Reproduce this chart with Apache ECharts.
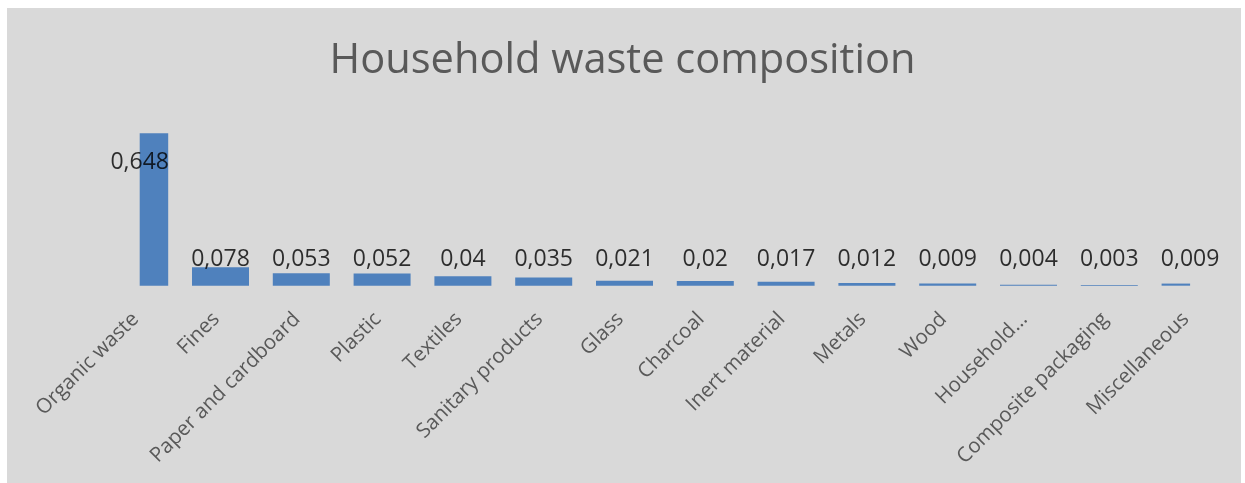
<!DOCTYPE html>
<html>
<head>
<meta charset="utf-8">
<script src="https://cdn.jsdelivr.net/npm/echarts@6/dist/echarts.min.js"></script>
<style>
html,body{margin:0;padding:0;background:#ffffff;}
#chart{width:1245px;height:483px;}
</style>
</head>
<body>
<div id="chart"></div>
<script>
const titleText = 'Household waste composition';
const categories = ['Organic waste', 'Fines', 'Paper and cardboard', 'Plastic', 'Textiles', 'Sanitary products', 'Glass', 'Charcoal', 'Inert material', 'Metals', 'Wood', 'Household...', 'Composite packaging', 'Miscellaneous'];
const values = [0.648, 0.078, 0.053, 0.052, 0.04, 0.035, 0.021, 0.02, 0.017, 0.012, 0.009, 0.004, 0.003, 0.009];

const fmt = v => String(v).replace('.', ',');
const BAR_W = 57;

const labelData = values.map((v, i) => {
  if (i === 0) {
    return { value: [i, v], label: { position: 'bottom', distance: 17 } };
  }
  return { value: [i, 0], label: { position: 'top', distance: 14 } };
});

const chart = echarts.init(document.getElementById('chart'), null, { renderer: 'canvas' });
chart.setOption({
  animation: false,
  backgroundColor: '#ffffff',
  graphic: [{
    type: 'rect', left: 7, top: 8, z: -100, silent: true,
    shape: { width: 1234, height: 475 },
    style: { fill: '#d9d9d9' }
  }],
  title: {
    text: titleText,
    left: 'center',
    top: 35,
    textStyle: { fontFamily: 'Open Sans', fontSize: 41.6, fontWeight: 'normal', color: '#595959' }
  },
  grid: { left: 139.7, right: 54.9, top: 121.1, bottom: 197.3 },
  xAxis: {
    type: 'category',
    data: categories,
    boundaryGap: false,
    axisLine: { show: false },
    axisTick: { show: false },
    splitLine: { show: false },
    axisLabel: {
      rotate: 45, interval: 0, margin: 26,
      padding: [0, 6, 0, 0],
      fontFamily: 'Open Sans', fontSize: 20.5, color: '#595959'
    }
  },
  yAxis: {
    type: 'value', min: 0, max: 0.7, show: false,
    splitLine: { show: false }
  },
  series: [{
    type: 'custom',
    data: values.map((v, i) => [i, v]),
    encode: { x: 0, y: 1 },
    renderItem: (params, api) => {
      const top = api.coord([api.value(0), api.value(1)]);
      const base = api.coord([api.value(0), 0]);
      const rect = echarts.graphic.clipRectByRect(
        { x: top[0] - BAR_W / 2, y: top[1], width: BAR_W, height: base[1] - top[1] },
        { x: params.coordSys.x, y: params.coordSys.y, width: params.coordSys.width, height: params.coordSys.height }
      );
      return rect && { type: 'rect', shape: rect, style: { fill: '#4f81bd' } };
    },
    z: 2
  }, {
    type: 'scatter',
    data: labelData,
    symbolSize: 1,
    clip: false,
    silent: true,
    itemStyle: { color: 'rgba(0,0,0,0)' },
    label: {
      show: true,
      formatter: p => fmt(values[p.dataIndex]),
      fontFamily: 'Open Sans', fontSize: 23, color: '#000000'
    },
    z: 5
  }]
});
</script>
</body>
</html>
